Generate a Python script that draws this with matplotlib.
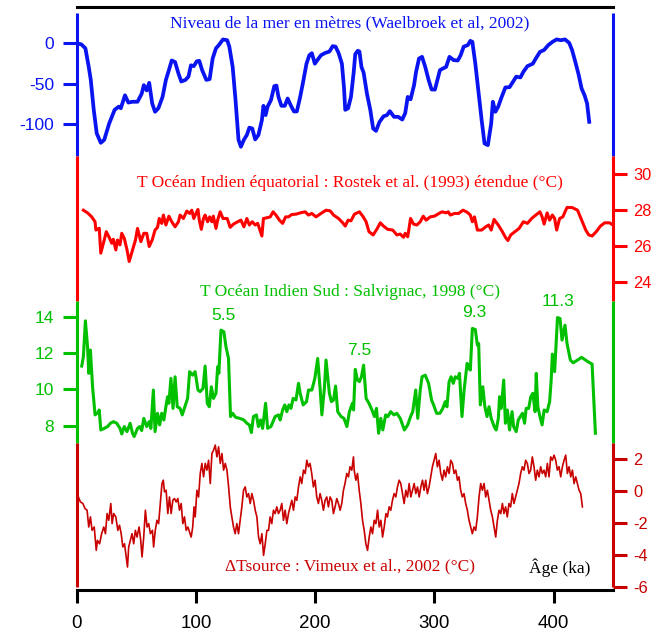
import matplotlib
matplotlib.use('Agg')
import matplotlib.pyplot as plt

plt.rcParams['axes.unicode_minus'] = False

# ---------------- data ----------------
sea_age = [0, 3.8, 7.3, 10.1, 11.8, 14.3, 16.8, 20.2, 23.1, 27.2, 31.8, 35.3, 37, 40.5, 43.3, 46.8, 51, 54.5,
           56.3, 58.7, 60.8, 63.3, 65.7, 68.5, 72, 74.8, 77.3, 79.7, 82.5, 85.3, 87.7, 91.2, 93.7, 95.8, 98.2,
           100.7, 102.8, 105.2, 108.7, 111.5, 114, 116.8, 119.2, 122.7, 126.2, 128, 130.8, 133.2, 135.7, 137.7,
           140.2, 142.7, 144.8, 147.2, 149.7, 152.4, 155.3, 156.6, 158.4, 160.1, 162.9, 165.7, 167.5, 169.2,
           171.7, 174.5, 176.9, 179.7, 182.2, 184.6, 187.4, 190.2, 192.7, 195.1, 197.2, 199.7, 202.1, 204.9,
           208.4, 211.9, 214.7, 217.1, 219.6, 222.4, 224.1, 225.2, 227.6, 230, 232.2, 233.6, 235.7, 237.1,
           238.8, 240.6, 243.4, 246.2, 248.6, 251, 253.9, 257.3, 260.2, 262.6, 266.1, 269.6, 273, 275.5, 277.6,
           280, 282.9, 284.6, 287.1, 289.6, 292.3, 295.1, 297.6, 300.4, 302.8, 304.6, 307, 309.8, 312.6, 316.1,
           319.6, 322, 324.5, 328, 330.1, 331.8, 334.3, 337.1, 339.6, 342, 344.8, 347.6, 349, 351.1, 353.5,
           355.9, 359.5, 363, 365.8, 368.6, 372.1, 374.6, 378, 382.5, 385, 388.5, 392, 395.5, 399, 402.5, 406,
           409.5, 413, 415.4, 418.2, 421, 423.4, 425.9, 428, 429.8]
sea_level = [0, -1, -6, -29, -45, -82, -111, -122.7, -119, -99, -82, -78, -80, -64, -73, -72, -72, -62,
             -51.5, -58, -48.6, -74, -84.4, -80, -66, -45, -33, -21, -23, -37, -47, -45, -41, -27, -28,
             -22, -21.5, -33, -45, -44, -18.6, -6, -2, 5, 4, -4, -29, -70, -119, -127.6,
             -119, -113, -104, -105, -118.5, -113, -94.7, -77, -88.5, -78, -70, -52.7, -52, -66,
             -77, -77, -68, -77, -84, -84, -66, -45, -25, -14.5, -12, -25, -20, -14.5,
             -11.7, -10, -3.3, -4, -11.7, -25, -53.5, -82, -80, -66, -37, -13.2, -9, -10,
             -29, -36, -62, -82, -105, -108, -97, -90, -88.5, -83.6, -90.6, -90.6, -94, -86, -66,
             -69, -51.5, -35, -18.6, -16.5, -29, -45, -56.8, -57, -43, -33, -31, -29, -16.5, -20.6,
             -21, -14.5, -4, -2, 3.2, 2, -25, -62, -94.7, -123.5, -125.6, -98.8, -72, -84.4, -78,
             -68, -54.3, -54, -47.4, -41, -42, -35, -28, -25, -18.6, -10.4, -8, -2, 2, 5, 4,
             5, 0.7, -8, -23, -39, -55.6, -64, -74, -96.8]

teq_age = [5.6, 9.1, 12.6, 15.4, 16.1, 18.9, 20.2, 23.1, 24.8, 27.2, 29.4, 30.7, 32.8, 34.2, 36.3, 37.8, 39.9,
           42.2, 44, 46.8, 49.3, 51, 53.8, 56.3, 58.7, 60.8, 63.3, 65.7, 67.8, 69.2, 71.3, 72.7, 74.8, 77.3,
           79.7, 82.5, 85.3, 86.7, 89.5, 92.3, 94.7, 96.5, 98.2, 100, 101.7, 102.8, 104.5, 106.3, 107.7, 109.8,
           111.5, 113.3, 114.6, 116.8, 118.2, 120.3, 122.7, 126.2, 128.7, 131.5, 135, 137.7, 140.2, 142.7,
           144.8, 147.2, 149.7, 151.8, 153.2, 155.3, 156.6, 159.5, 162.3, 164.7, 167.1, 170, 172.7, 175.2,
           177.6, 180.4, 183.9, 187.4, 191.6, 194.4, 197.2, 200.7, 204.9, 209.1, 212.6, 215.4, 219.6, 223.1,
           225.2, 227.6, 230, 232.9, 237.1, 239.9, 242.7, 245.1, 248.6, 252.1, 254.6, 257.3, 260.8, 265,
           268.5, 271.3, 274.1, 275.5, 277.6, 280, 282.5, 285.3, 288.1, 290.6, 293, 296.5, 300, 302.8, 306.3,
           309.8, 311.6, 313.3, 316.9, 320.3, 323.9, 327.4, 330.1, 331.8, 333.6, 336, 339.6, 343, 345.5,
           347.6, 350, 353.5, 357, 359.5, 361.6, 364, 367.5, 371, 374.6, 378, 381.5, 385, 388.5, 390.3, 392,
           394.5, 396.6, 398.9, 400.8, 402.5, 405, 407.7, 409.5, 411.2, 415.4, 420, 423.4, 426.9, 429.4,
           432.2, 435.7, 439.2, 442.7, 446.9, 449.7]
teq_val = [28.0, 27.85, 27.63, 27.36, 26.9, 27.0, 25.62, 26.35, 26.81, 26.5, 26.17, 26.39, 25.8, 26.35, 26.08,
           26.72, 26.44, 25.8, 25.16, 25.8, 26.35, 26.99, 26.26, 26.72, 26.72, 25.99, 26.35, 26.9, 27.05,
           27.54, 27.27, 27.73, 27.18, 27.67, 27.36, 27.08, 27.36, 27.73, 27.54, 27.95, 27.82, 28.0, 27.54,
           27.82, 28.04, 27.45, 26.94, 27.54, 27.73, 27.36, 27.63, 27.36, 27.67, 26.99, 27.45, 27.91, 27.54,
           27.54, 27.05, 27.23, 27.36, 27.45, 27.08, 27.54, 27.18, 27.36, 27.18, 27.27, 26.99, 26.57, 27.54,
           27.58, 27.63, 27.91, 27.73, 27.45, 27.27, 27.63, 27.63, 27.76, 27.78, 27.85, 27.91, 27.73, 27.82,
           27.63, 27.82, 28.0, 27.96, 27.73, 27.54, 27.3, 27.12, 27.45, 27.41, 27.78, 27.91, 27.67, 27.36,
           26.81, 26.63, 26.99, 27.3, 27.12, 26.94, 26.9, 26.63, 26.68, 26.5, 26.72, 26.53, 27.54, 27.23,
           27.18, 27.36, 27.67, 27.45, 27.63, 27.67, 27.78, 27.91, 27.85, 27.91, 27.73, 27.82, 27.82, 28.0,
           27.89, 27.73, 27.36, 27.63, 26.9, 26.9, 27.08, 27.18, 26.9, 27.49, 27.18, 26.81, 26.5, 26.32,
           26.63, 26.81, 26.99, 27.36, 27.27, 27.54, 27.73, 27.91, 27.63, 27.23, 27.85, 27.45, 27.73, 27.54,
           26.9, 27.54, 27.63, 27.91, 28.15, 28.15, 28.0, 27.45, 26.9, 26.63, 26.57, 26.81, 27.12, 27.3,
           27.3, 27.18]

tsud_age = [4.2, 5.6, 7.3, 9.1, 10.1, 11.5, 13.3, 15.4, 17.8, 18.9, 20.2, 23.1, 25.9, 28.3, 30.7, 33.6, 36.3,
            37.8, 39.9, 42.2, 44.8, 46.8, 48.2, 51, 52.8, 54.5, 56.3, 58.7, 60.8, 62.2, 64.3, 65.7, 67.8, 69.6,
            71.3, 73.1, 74.8, 76.2, 77.3, 79, 80.8, 82.5, 84.3, 86.7, 88.5, 91.2, 93, 94.7, 97.2, 99.3, 101.7,
            103.5, 105.9, 107.7, 109.5, 111.2, 112.9, 114.7, 116.8, 118.2, 119.2, 121, 123.4, 125.2, 127.3,
            129, 130.8, 133.2, 136.7, 140.2, 142.7, 144.8, 146.5, 148.2, 150.7, 152.4, 154.2, 155.9, 158.4,
            160.1, 162.9, 166.4, 169.2, 170.6, 172.7, 174.5, 176.2, 178, 179.7, 181.5, 183.9, 186, 187.4,
            189.9, 192.7, 194.4, 197.2, 199.7, 202.1, 204.2, 205.6, 207.7, 209.1, 211.9, 213.6, 215.4, 217.1,
            218.9, 221.7, 224.1, 226.6, 228.7, 231.2, 232.2, 233.6, 235.4, 237.1, 238.8, 240.6, 242.7, 245.1,
            247.6, 249.7, 251.4, 253.2, 255, 256.7, 259.1, 260.9, 263.3, 266.1, 268.5, 271.3, 274.8, 277.6,
            280, 281.8, 284.3, 286, 288.1, 289.6, 292.3, 295.1, 297.6, 299.3, 301.8, 304.6, 307, 309.1, 310.5,
            312.3, 314, 315.8, 317.5, 319.6, 321, 323.1, 324.9, 327.4, 329.1, 330.1, 331.8, 334.3, 336, 337.1,
            338.5, 340.6, 342.3, 344.1, 345.8, 347.6, 350.1, 351.8, 353.6, 354.6, 356, 358.1, 359.5, 361.2,
            363, 365.1, 366.4, 368.6, 370.3, 372.1, 373.8, 375.6, 376.9, 379, 380.8, 382.5, 384.4, 385.4,
            386.7, 388.5, 390.3, 392, 394.5, 396.6, 397.9, 398.9, 400.8, 403.2, 405.3, 407, 409.5, 411.2, 414,
            416.4, 420, 423.4, 428.7, 432.2, 435]
tsud_val = [11.29, 11.8, 13.78, 12.35, 10.89, 12.17, 10.15, 8.6, 8.73, 8.87, 7.77, 7.86, 7.96, 8.14, 8.23, 8.14,
            7.86, 7.55, 7.96, 7.68, 8.14, 7.59, 7.41, 7.86, 7.96, 7.74, 8.41, 7.96, 8.23, 7.86, 9.97, 7.68,
            8.69, 8.05, 8.69, 8.32, 9.05, 9.6, 9.24, 10.61, 8.96, 10.7, 9.05, 8.96, 8.6, 9.15, 9.51, 10.98,
            10.79, 10.98, 9.97, 9.88, 10.06, 11.29, 9.24, 9.05, 10.15, 9.51, 9.79, 11.25, 10.89, 13.27, 13.18,
            12.35, 11.71, 8.51, 8.69, 8.47, 8.41, 8.32, 8.14, 8.05, 7.63, 8.51, 8.6, 7.96, 8.32, 7.86, 9.24,
            7.86, 7.96, 8.51, 8.6, 8.32, 8.87, 9.15, 8.78, 9.15, 8.96, 9.51, 9.42, 10.34, 9.79, 9.15, 9.33,
            9.97, 9.97, 10.61, 11.71, 9.97, 8.6, 10.06, 11.62, 9.79, 9.33, 9.42, 10.19, 8.78, 8.51, 8.41,
            7.96, 8.78, 9.24, 8.87, 11.11, 10.52, 10.43, 10.7, 11.34, 9.51, 9.24, 8.87, 8.51, 8.96, 7.59,
            8.41, 7.77, 8.6, 8.51, 8.78, 8.6, 8.69, 8.41, 7.77, 8.05, 8.51, 8.78, 9.97, 8.41, 9.97, 10.7,
            10.79, 10.34, 9.42, 9.15, 8.69, 8.69, 8.96, 9.33, 9.05, 10.43, 10.7, 10.34, 10.7, 10.61, 10.89,
            8.51, 9.97, 11.44, 11.16, 11.07, 13.36, 13.3, 12.44, 12.53, 9.15, 10.15, 9.05, 8.51, 9.05, 8.41,
            7.96, 7.77, 8.41, 9.6, 8.96, 10.52, 8.14, 8.87, 7.77, 8.78, 7.96, 7.68, 8.32, 8.51, 8.69, 8.14,
            8.96, 8.96, 9.6, 9.79, 8.78, 10.89, 9.05, 8.51, 8.05, 8.87, 8.78, 9.33, 10.52, 11.95, 10.98,
            13.96, 13.91, 12.72, 13.54, 12.53, 11.62, 11.47, 11.62, 11.77, 11.53, 11.4, 7.59]

dts_age = [0, 1.4, 3.1, 5.2, 7, 8.7, 10.1, 11.5, 12.9, 14.7, 16.4, 17.4, 19.2, 20.9, 22.7, 24.1, 25.5, 26.9,
           28.6, 29.7, 31, 32.8, 34.5, 35.9, 37.3, 38.7, 40.1, 41.5, 42.6, 43.6, 45, 46.4, 47.8, 49.2, 50.6,
           52.3, 53.7, 54.8, 56.2, 57.6, 59, 60.4, 61.8, 63.5, 64.5, 65.9, 67.3, 68.7, 70.1, 71.5, 72.6, 73.6,
           75, 76.4, 77.8, 79.2, 80.6, 82, 83.4, 84.8, 86.2, 87.6, 89, 90.4, 91.8, 93.2, 94.6, 96, 97.3, 98.4,
           99.4, 100.8, 102.2, 103.6, 105, 106.4, 107.8, 109.2, 110.6, 112, 113.4, 114.8, 116.2, 117.6, 119,
           120.4, 121.8, 123.2, 124.6, 126, 127.4, 128.8, 130.1, 131.5, 132.9, 134.3, 135.7, 137.1, 138.5,
           139.9, 141.3, 142.7, 144.1, 145.5, 146.9, 148.3, 149.7, 151.1, 152.5, 153.9, 155.3, 156.7, 158.1,
           159.5, 160.9, 162.2, 163.6, 165, 166.4, 167.8, 169.2, 170.6, 172, 173.4, 174.8, 176.2, 177.6, 179,
           180.4, 181.8, 183.2, 184.6, 186, 187.4, 188.7, 190.2, 191.6, 193, 194.3, 195.7, 197.1, 198.5,
           199.9, 201.3, 202.7, 204.1, 205.5, 206.9, 208.3, 209.7, 211.1, 212.5, 213.9, 215.3, 216.7, 218.1,
           219.5, 220.9, 222.3, 223.7, 225, 226.5, 227.9, 229.2, 230.7, 232.1, 232.7, 234.1, 235.5, 236.9,
           238.3, 239.7, 241.1, 242.5, 243.9, 245.3, 246.7, 248.1, 249.5, 250.9, 252.3, 253.7, 255.1, 256.5,
           257.9, 259.3, 260.6, 262, 263.4, 264.8, 266.2, 267.6, 269, 270.4, 271.8, 273.2, 274.6, 276, 277.4,
           278.8, 280.2, 281.6, 283, 284.4, 285.8, 287.2, 288.6, 290, 291.3, 292.7, 294.1, 295.5, 296.9,
           298.3, 299.7, 301.1, 302.5, 303.9, 305.3, 306.7, 308.1, 309.4, 310.9, 312.3, 313.7, 315.1, 316.5,
           317.9, 319.3, 320.6, 322, 323.4, 324.8, 326.2, 327.6, 329, 330.4, 331.8, 333.2, 334.6, 336, 337.4,
           338.8, 340.2, 341.6, 343, 344.4, 345.8, 347.2, 348.6, 350, 351.4, 352.8, 354.2, 355.6, 357, 358.3,
           359.7, 361.1, 362.5, 363.9, 365.3, 366.7, 368.1, 369.5, 370.9, 372.3, 373.7, 375.1, 376.5, 377.9,
           379.3, 380.7, 382.1, 383.5, 384.9, 386.3, 387.7, 389.1, 390.5, 391.9, 393.3, 394.7, 396.1, 397.5,
           398.9, 400.3, 401.7, 403.1, 404.5, 405.9, 407.3, 408.7, 410.1, 411.5, 412.9, 414.3, 415.7, 417.1,
           418.5, 419.9, 421.3, 422.7, 424.1]
dts_val = [-0.06, -0.38, -0.69, -0.79, -1.11, -1.21, -2.26, -1.63, -2.47, -2.26,
           -3.72, -3.1, -3.31, -2.68, -2.26, -2.68, -1.42, -1.84, -0.79, -2.05,
           -1.42, -1.63, -2.47, -2.15, -2.68, -3.51, -3.31, -4.14, -4.77, -3.51,
           -3.1, -2.68, -3.31, -2.47, -2.89, -2.26, -3.1, -4.14, -2.89, -1.21,
           -2.26, -2.05, -2.68, -2.47, -3.51, -2.47, -1.84, -2.05, -0.79, 0.46,
           0.67, -0.06, 0.04, -1.42, -0.38, -1.42, -0.59, -0.48, -0.69, -0.48,
           -1.21, -0.79, -2.05, -1.63, -2.47, -2.26, -2.57, -2.89, -2.26, -1.0,
           -1.63, 0.04, -0.38, 1.09, 1.72, 0.88, 1.72, 1.3, 1.92, 0.46,
           2.34, 2.55, 2.87, 2.13, 2.76, 1.72, 2.34, 1.3, 1.72, 1.3,
           0.25, -1.0, -1.63, -2.26, -2.68, -2.05, -2.68, -1.84, -1.0, 0.04,
           0.25, -0.38, -0.17, -0.79, -0.17, -0.59, -1.21, -1.63, -2.89, -3.31,
           -2.68, -4.04, -3.31, -2.47, -2.47, -1.63, -2.05, -1.21, -1.42, -1.0,
           -1.42, -1.21, -0.79, -1.84, -1.21, -2.05, -1.42, -1.0, -0.59, -1.21,
           -0.38, -0.59, 0.25, 0.88, 0.46, 1.3, 1.09, 1.92, 1.51, 1.72,
           1.09, 0.25, 0.67, -0.38, -0.79, -0.17, -0.59, -1.21, -0.59, -0.38,
           -1.0, -0.38, -0.59, -1.42, -1.0, -0.48, -0.79, -1.21, -0.79, 0.04,
           0.46, 1.09, 0.88, 1.51, 1.3, 2.13, 1.3, 0.67, 1.09, 0.04,
           -0.79, -1.84, -2.47, -3.31, -3.72, -2.89, -2.26, -2.68, -1.84, -2.05,
           -1.21, -2.26, -1.84, -2.89, -2.26, -1.42, -1.63, -1.0, -1.21, -0.59,
           -0.17, -0.38, 0.25, 0.67, 0.46, -0.17, -0.79, 0.04, -0.38, 0.46,
           -0.38, 0.04, 0.46, -0.17, 0.25, -0.38, 0.25, 0.67, 0.04, 0.67,
           -0.17, 0.25, 0.88, 1.51, 1.92, 2.34, 1.51, 1.92, 1.09, 0.67,
           1.3, 0.88, 1.51, 1.09, 1.92, 1.72, 1.09, 1.3, 0.67, 0.88,
           0.04, -0.38, -0.17, -0.79, -1.21, -1.84, -2.26, -2.68, -2.26, -2.47,
           -1.63, -0.38, 0.46, 0.04, 0.46, -0.38, 0.04, -0.59, -1.21, -1.63,
           -2.26, -2.89, -1.84, -1.21, -1.42, -0.79, -1.42, -1.0, -1.63, -0.79,
           -1.0, -0.17, -0.79, -0.38, 0.04, 0.46, 1.09, 1.51, 1.3, 1.92,
           1.72, 1.09, 1.3, 2.13, 1.51, 0.67, 1.3, 0.88, 1.51, 1.09,
           1.3, 0.88, 1.72, 0.88, 2.13, 1.92, 2.24, 1.92, 1.3, 1.51,
           0.88, 1.51, 1.92, 2.24, 1.09, 1.51, 0.88, 1.3, 0.46, 0.88,
           0.46, 0.04, -0.17, -1.0]

peak_age = [122.8, 237, 333.4, 403.5]
peak_y = [14.09, 12.17, 14.24, 14.82]
peak_labels = ['5.5', '7.5', '9.3', '11.3']

x_ticks = [0, 100, 200, 300, 400]
sea_ticks = [-100, -50, 0]
teq_ticks = [24, 26, 28, 30]
tsud_ticks = [8, 10, 12, 14]
dts_ticks = [-6, -4, -2, 0, 2]

titles = ['Niveau de la mer en mètres (Waelbroek et al, 2002)',
          'T Océan Indien équatorial : Rostek et al. (1993) étendue (°C)',
          'T Océan Indien Sud : Salvignac, 1998 (°C)',
          'ΔTsource : Vimeux et al., 2002 (°C)']

# ---------------- style ----------------
BLUE = '#0a14f0'
RED = '#ff0000'
GREEN = '#00c000'
DRED = '#c80000'
SANS = ['Liberation Sans', 'DejaVu Sans']
SERIF = ['Liberation Serif', 'DejaVu Serif']
W, H = 654.0, 635.0
LEFT_PX, RIGHT_PX = 76.7, 613.3
SPW = 2.2

fig = plt.figure(figsize=(W / 100, H / 100), dpi=100)


def box(top_px, bot_px):
    return [LEFT_PX / W, 1 - bot_px / H, (RIGHT_PX - LEFT_PX) / W, (bot_px - top_px) / H]


# frame axes: black top line + x axis
ax0 = fig.add_axes(box(7.3, 590), zorder=0)
ax0.patch.set_visible(False)
ax0.set_xlim(0, 450)
ax0.set_ylim(0, 1)
ax0.set_yticks([])
ax0.spines['left'].set_visible(False)
ax0.spines['right'].set_visible(False)
ax0.spines['top'].set_linewidth(2.2)
ax0.spines['bottom'].set_linewidth(SPW)
ax0.set_xticks(x_ticks)
ax0.tick_params(axis='x', length=9.6, width=SPW, direction='out', labelsize=13.5, pad=8.5)
for lab in ax0.get_xticklabels():
    lab.set_fontfamily(SANS)


def panel(top_px, bot_px, color, side, ticks, ylim):
    ax = fig.add_axes(box(top_px, bot_px), zorder=2)
    ax.patch.set_visible(False)
    ax.set_xlim(0, 450)
    ax.set_ylim(*ylim)
    ax.set_xticks([])
    ax.spines['top'].set_visible(False)
    ax.spines['bottom'].set_visible(False)
    for s in ('left', 'right'):
        ax.spines[s].set_color(color)
        ax.spines[s].set_linewidth(SPW)
        ax.spines[s].set_capstyle('butt')
    ax.yaxis.set_ticks_position(side)
    ax.set_yticks(ticks)
    if side == 'left':
        size, pad = 12.5, 6.5
    else:
        size, pad = 11.8, 4.8
    ax.tick_params(axis='y', colors=color, length=9.8, width=SPW, direction='out',
                   labelsize=size, pad=pad)
    for lab in ax.get_yticklabels():
        lab.set_fontfamily(SANS)
    return ax


ax_sea = panel(12.7, 156, BLUE, 'left', sea_ticks, (-139, 38))
ax_teq = panel(156, 300.5, RED, 'right', teq_ticks, (23.0, 31.0))
ax_tsud = panel(300.5, 442.7, GREEN, 'left', tsud_ticks, (7.07, 14.9))
ax_dts = panel(443, 586.7, DRED, 'right', dts_ticks, (-6, 3))

ax_sea.plot(sea_age, sea_level, color=BLUE, lw=2.7, solid_joinstyle='round')
ax_teq.plot(teq_age, teq_val, color=RED, lw=2.2, solid_joinstyle='round')
ax_tsud.plot(tsud_age, tsud_val, color=GREEN, lw=2.2, solid_joinstyle='round')
ax_dts.plot(dts_age, dts_val, color=DRED, lw=1.2)

for a, y, s in zip(peak_age, peak_y, peak_labels):
    ax_tsud.text(a, y, s, color=GREEN, fontsize=12.5, family=SANS, ha='center', va='center')

title_y = [1 - 23 / H, 1 - 183.3 / H, 1 - 291.7 / H, 1 - 566 / H]
title_c = [BLUE, RED, GREEN, DRED]
for t, y, c in zip(titles, title_y, title_c):
    fig.text(350 / W, y, t, color=c, fontsize=12.5, family=SERIF, ha='center', va='center')

fig.text(560 / W, 1 - 568 / H, 'Âge (ka)', color='black', fontsize=12.5, family=SERIF,
         ha='center', va='center')

fig.savefig('out.png', dpi=100)
